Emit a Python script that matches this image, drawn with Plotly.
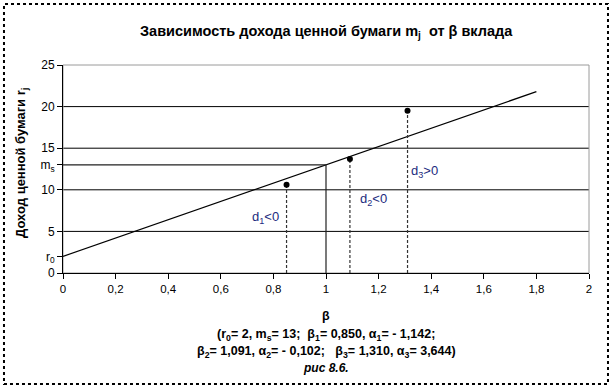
import plotly.graph_objects as go

# ---- data ----
sml_beta = [0, 1.8]
sml_return = [2, 21.8]
r0 = 2
ms = 13
beta_m = 1.0
point_beta = [0.85, 1.091, 1.31]
point_return = [10.6, 13.7, 19.5]
point_labels = ["d<sub>1</sub>&lt;0", "d<sub>2</sub>&lt;0", "d<sub>3</sub>&gt;0"]
label_pos_y = [6.7, 8.8, 12.2]
label_pos_x = [0.77, 1.18, 1.375]
x_ticks = [0, 0.2, 0.4, 0.6, 0.8, 1, 1.2, 1.4, 1.6, 1.8, 2]
x_ticktext = ["0", "0,2", "0,4", "0,6", "0,8", "1", "1,2", "1,4", "1,6", "1,8", "2"]
y_ticks = [0, 2, 5, 10, 13, 15, 20, 25]
y_ticktext = ["0", "r<sub>0</sub>", "5", "10", "m<sub>s</sub>", "15", "20", "25"]
grid_vals = [5, 10, 15, 20]

FONT = "Liberation Sans, Arial, sans-serif"
fig = go.Figure()

# security market line
fig.add_trace(go.Scatter(x=sml_beta, y=sml_return, mode="lines",
                         line=dict(color="black", width=1.2), hoverinfo="skip"))
# market portfolio guide lines
fig.add_trace(go.Scatter(x=[0, beta_m, beta_m], y=[ms, ms, 0], mode="lines",
                         line=dict(color="#222", width=1.2), hoverinfo="skip"))
# dashed drop lines
for b, r in zip(point_beta, point_return):
    fig.add_trace(go.Scatter(x=[b, b], y=[0, r], mode="lines",
                             line=dict(color="#333", width=1.2, dash="3px,2px"), hoverinfo="skip"))
# points
fig.add_trace(go.Scatter(x=point_beta, y=point_return, mode="markers",
                         marker=dict(color="black", size=6), hoverinfo="skip"))

shapes = []
for g in grid_vals:
    shapes.append(dict(type="line", xref="paper", yref="y", x0=0, x1=1, y0=g, y1=g,
                       line=dict(color="black", width=1), layer="below"))
# plot-area border (top/right gray)
shapes.append(dict(type="rect", xref="paper", yref="paper", x0=0, x1=1, y0=0, y1=1,
                   line=dict(color="#9a9a9a", width=1), layer="below"))
# outer dotted frame
shapes.append(dict(type="rect", xref="paper", yref="paper",
                   x0=-0.1122, x1=1.0361, y0=-0.5337, y1=1.2933,
                   line=dict(color="black", width=2, dash="dot")))

def ann(x, y, text, size, xref="paper", yref="paper", color="black", angle=0):
    return dict(x=x, y=y, xref=xref, yref=yref, text=text, showarrow=False,
                xanchor="center", yanchor="middle", textangle=angle,
                font=dict(family=FONT, size=size, color=color))

annotations = []
for t, lx, ly in zip(point_labels, label_pos_x, label_pos_y):
    annotations.append(ann(lx, ly, t, 13, "x", "y", "#1c2c80"))

NB = "&nbsp;"
annotations += [
    ann(0.5, 1.1587, "<b>Зависимость дохода ценной бумаги m<sub>j</sub>" + NB + " от β вклада</b>", 14.5),
    ann(-0.078, 0.529, "<b>Доход ценной бумаги r<sub>j</sub></b>", 13, angle=-90),
    ann(0.5, -0.207, "<b>β</b>", 12.5),
    ann(0.5, -0.298, "<b>(r<sub>0</sub>= 2, m<sub>s</sub>= 13;" + NB + " β<sub>1</sub>= 0,850, α<sub>1</sub>= - 1,142;</b>", 12.5),
    ann(0.5, -0.380, "<b>β<sub>2</sub>= 1,091, α<sub>2</sub>= - 0,102;" + NB * 2 + " β<sub>3</sub>= 1,310, α<sub>3</sub>= 3,644)</b>", 12.5),
    ann(0.5, -0.457, "<b><i>рис 8.6.</i></b>", 12),
]

fig.update_layout(
    width=614, height=389,
    margin=dict(l=63, r=25, t=65, b=116),
    paper_bgcolor="white", plot_bgcolor="white",
    showlegend=False,
    font=dict(family=FONT, size=11, color="black"),
    shapes=shapes, annotations=annotations,
    xaxis=dict(range=[0, 2], tickvals=x_ticks, ticktext=x_ticktext, showgrid=False,
               zeroline=False, showline=True, linecolor="black", linewidth=1,
               ticks="outside", ticklen=5, tickcolor="black",
               tickfont=dict(family=FONT, size=11.5, color="black")),
    yaxis=dict(range=[0, 25], tickvals=y_ticks, ticktext=y_ticktext, showgrid=False,
               zeroline=False, showline=True, linecolor="black", linewidth=1,
               ticks="outside", ticklen=5, tickcolor="black",
               tickfont=dict(family=FONT, size=12, color="black")),
)

fig.write_html("out.html")
